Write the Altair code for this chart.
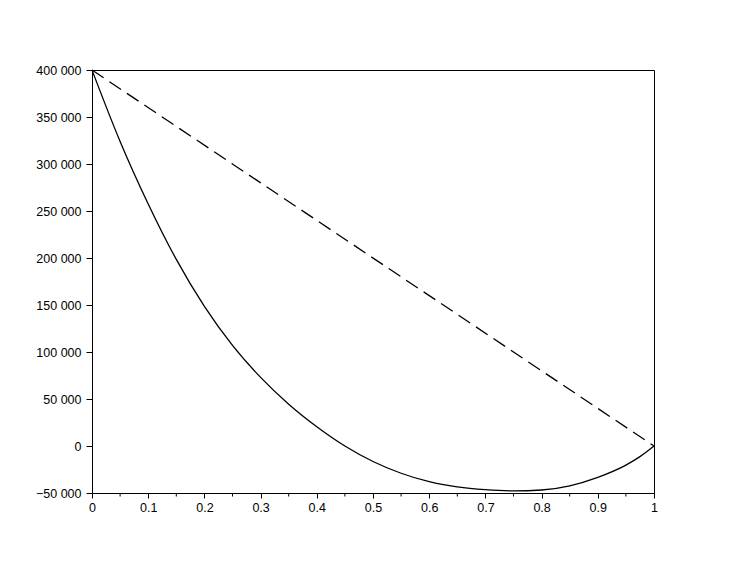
import altair as alt
import pandas as pd

# Solid curve readings (x, value)
curve_x = [0.0, 0.05, 0.1, 0.15, 0.2, 0.25, 0.3, 0.35, 0.4, 0.45, 0.5,
           0.55, 0.6, 0.65, 0.7, 0.75, 0.8, 0.85, 0.9, 0.95, 0.975, 1.0]
curve_y = [400000, 324000, 257500, 198500, 148500, 107000, 73000, 44500, 20500, 0, -16500,
           -29000, -38000, -43500, -46500, -47800, -46800, -42300, -33300, -20300, -11300, 0]

# Dashed straight line
dash_x = [0.0, 1.0]
dash_y = [400000, 0]

# Axis ticks
x_ticks = [0, 0.1, 0.2, 0.3, 0.4, 0.5, 0.6, 0.7, 0.8, 0.9, 1.0]
x_minor = [0.05, 0.15, 0.25, 0.35, 0.45, 0.55, 0.65, 0.75, 0.85, 0.95]
y_ticks = [-50000, 0, 50000, 100000, 150000, 200000, 250000, 300000, 350000, 400000]

curve_df = pd.DataFrame({"x": curve_x, "y": curve_y})
dash_df = pd.DataFrame({"x": dash_x, "y": dash_y})
minor_df = pd.DataFrame({"x": x_minor})

xscale = alt.Scale(domain=[0, 1], nice=False, zero=False)
yscale = alt.Scale(domain=[-50000, 400000], nice=False, zero=False)

xaxis = alt.Axis(values=x_ticks, grid=False, title=None, tickSize=5, labelPadding=3,
                 format=".1~f",
                 domainColor="black", tickColor="black", labelColor="black",
                 labelFont="Liberation Sans", labelFontSize=12.5, labelFlush=False)
yaxis = alt.Axis(values=y_ticks, grid=False, title=None, tickSize=6, labelPadding=5,
                 domainColor="black", tickColor="black", labelColor="black",
                 labelFont="Liberation Sans", labelFontSize=12.5,
                 labelExpr="replace(format(datum.value, ','), ',', ' ')")

curve = alt.Chart(curve_df).mark_line(color="black", strokeWidth=1.3, interpolate="monotone").encode(
    x=alt.X("x:Q", scale=xscale, axis=xaxis),
    y=alt.Y("y:Q", scale=yscale, axis=yaxis),
)

dash = alt.Chart(dash_df).mark_line(color="black", strokeWidth=1.3, strokeDash=[14, 7]).encode(
    x=alt.X("x:Q", scale=xscale),
    y=alt.Y("y:Q", scale=yscale),
)

minor = alt.Chart(minor_df).mark_rule(color="black", strokeWidth=1).encode(
    x=alt.X("x:Q", scale=xscale),
    y=alt.value(423),
    y2=alt.value(426.5),
)

chart = alt.layer(curve, dash, minor).properties(
    width=562, height=423,
    autosize=alt.AutoSizeParams(type="none"),
    padding={"left": 84, "top": 62, "right": 10, "bottom": 40},
).configure_view(stroke="black", strokeWidth=1, fill="white")

chart.save("out.html", embed_options={"renderer": "svg", "actions": False})
